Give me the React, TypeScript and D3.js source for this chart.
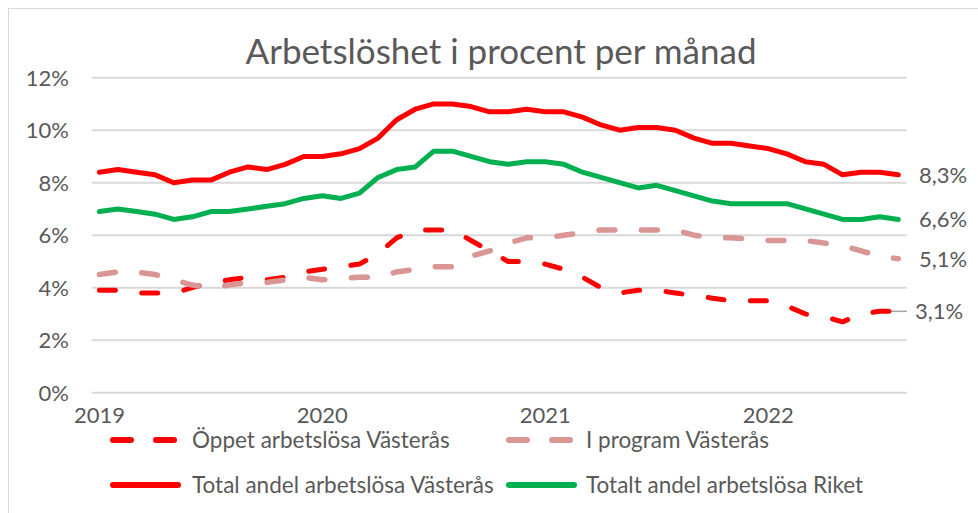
import React from "react";
import * as d3 from "d3";

const months = [
  "2019-01","2019-02","2019-03","2019-04","2019-05","2019-06","2019-07","2019-08","2019-09","2019-10","2019-11","2019-12",
  "2020-01","2020-02","2020-03","2020-04","2020-05","2020-06","2020-07","2020-08","2020-09","2020-10","2020-11","2020-12",
  "2021-01","2021-02","2021-03","2021-04","2021-05","2021-06","2021-07","2021-08","2021-09","2021-10","2021-11","2021-12",
  "2022-01","2022-02","2022-03","2022-04","2022-05","2022-06","2022-07","2022-08",
];

const yearTicks = ["2019", "2020", "2021", "2022"];
const yTicks = [0, 2, 4, 6, 8, 10, 12];

const oppet = [
  3.9, 3.9, 3.8, 3.8, 3.8, 4.0, 4.2, 4.3, 4.4, 4.3, 4.4, 4.6,
  4.7, 4.8, 4.9, 5.3, 5.9, 6.2, 6.2, 6.2, 5.8, 5.4, 5.0, 5.0,
  4.9, 4.7, 4.4, 4.0, 3.8, 3.9, 3.9, 3.8, 3.7, 3.6, 3.5, 3.5,
  3.5, 3.3, 3.0, 2.9, 2.7, 3.0, 3.1, 3.1,
];

const iProgram = [
  4.5, 4.6, 4.6, 4.5, 4.3, 4.1, 4.0, 4.1, 4.2, 4.2, 4.3, 4.4,
  4.3, 4.35, 4.4, 4.4, 4.6, 4.7, 4.8, 4.8, 5.2, 5.4, 5.7, 5.9,
  5.9, 6.0, 6.1, 6.2, 6.2, 6.2, 6.2, 6.2, 6.0, 5.9, 5.9, 5.85,
  5.8, 5.8, 5.8, 5.7, 5.6, 5.4, 5.2, 5.1,
];

const totalVasteras = [
  8.4, 8.5, 8.4, 8.3, 8.0, 8.1, 8.1, 8.4, 8.6, 8.5, 8.7, 9.0,
  9.0, 9.1, 9.3, 9.7, 10.4, 10.8, 11.0, 11.0, 10.9, 10.7, 10.7, 10.8,
  10.7, 10.7, 10.5, 10.2, 10.0, 10.1, 10.1, 10.0, 9.7, 9.5, 9.5, 9.4,
  9.3, 9.1, 8.8, 8.7, 8.3, 8.4, 8.4, 8.3,
];

const riket = [
  6.9, 7.0, 6.9, 6.8, 6.6, 6.7, 6.9, 6.9, 7.0, 7.1, 7.2, 7.4,
  7.5, 7.4, 7.6, 8.2, 8.5, 8.6, 9.2, 9.2, 9.0, 8.8, 8.7, 8.8,
  8.8, 8.7, 8.4, 8.2, 8.0, 7.8, 7.9, 7.7, 7.5, 7.3, 7.2, 7.2,
  7.2, 7.2, 7.0, 6.8, 6.6, 6.6, 6.7, 6.6,
];

const seriesNames = [
  "Öppet arbetslösa Västerås",
  "I program Västerås",
  "Total andel arbetslösa Västerås",
  "Totalt andel arbetslösa Riket",
];

const title = "Arbetslöshet i procent per månad";

const FONT = "Lato, 'Open Sans', sans-serif";
const TEXT = "#595959";

export default function App() {
  const W = 978, H = 513;
  const plotLeft = 91.7, plotRight = 906.7;
  const x = d3.scalePoint<string>().domain(months).range([99.4, 898.3]);
  const y = d3.scaleLinear().domain([0, 12]).range([392.7, 77.7]);

  const line = d3
    .line<number>()
    .x((_, i) => x(months[i]) as number)
    .y((d) => y(d));

  const series = [
    { name: seriesNames[0], data: oppet, color: "#FF0000", dash: "16 26.5", width: 5 },
    { name: seriesNames[1], data: iProgram, color: "#D99694", dash: "16 26.5", width: 5.5 },
    { name: seriesNames[2], data: totalVasteras, color: "#FF0000", dash: null, width: 5 },
    { name: seriesNames[3], data: riket, color: "#00B050", dash: null, width: 5 },
  ];

  const fmt = (v: number) => v.toFixed(1).replace(".", ",") + "%";
  const last = months.length - 1;

  const legendItems = [
    { s: series[0], lx: 113, tx: 192, ty: 440 },
    { s: series[1], lx: 509, tx: 586, ty: 440 },
    { s: series[2], lx: 113, tx: 192, ty: 485 },
    { s: series[3], lx: 509, tx: 586, ty: 485 },
  ];

  return (
    <svg
      width={W}
      height={H}
      style={{ position: "absolute", left: 0, top: 0, background: "#fff" }}
      fontFamily={FONT}
    >
      <rect x={0} y={0} width={W} height={H} fill="#fff" />
      <rect x={8.5} y={8.5} width={W + 20} height={H + 20} fill="none" stroke="#D9D9D9" strokeWidth={1} />

      <text x={501} y={64} textAnchor="middle" fontSize={35} fill={TEXT}>
        {title}
      </text>

      {yTicks.map((t) => (
        <g key={t}>
          <line x1={plotLeft} x2={plotRight} y1={y(t)} y2={y(t)} stroke="#D9D9D9" strokeWidth={2} />
          <text x={69} y={y(t)} dy="0.36em" textAnchor="end" fontSize={22} fill={TEXT}>
            {t}%
          </text>
        </g>
      ))}

      {yearTicks.map((yr) => (
        <text key={yr} x={x(yr + "-01") as number} y={423} textAnchor="middle" fontSize={22} fill={TEXT}>
          {yr}
        </text>
      ))}

      <line
        x1={x(months[last - 1]) as number}
        x2={907}
        y1={y(oppet[last])}
        y2={y(oppet[last])}
        stroke="#A6A6A6"
        strokeWidth={1.5}
      />

      {series.map((s) => (
        <path
          key={s.name}
          d={line(s.data) || ""}
          fill="none"
          stroke={s.color}
          strokeWidth={s.width}
          strokeLinejoin="round"
          strokeLinecap="round"
          strokeDasharray={s.dash || undefined}
        />
      ))}

      {series.map((s, i) => (
        <text
          key={"lbl" + i}
          x={i === 0 ? 915 : 919}
          y={y(s.data[last])}
          dy="0.36em"
          fontSize={22}
          fill={TEXT}
        >
          {fmt(s.data[last])}
        </text>
      ))}

      {legendItems.map(({ s, lx, tx, ty }) => (
        <g key={"leg" + s.name}>
          <line
            x1={lx}
            x2={lx + 65}
            y1={ty}
            y2={ty}
            stroke={s.color}
            strokeWidth={6}
            strokeLinecap="round"
            strokeDasharray={s.dash ? "18 25" : undefined}
          />
          <text x={tx} y={ty} dy="0.36em" fontSize={22.5} fill={TEXT}>
            {s.name}
          </text>
        </g>
      ))}
    </svg>
  );
}
